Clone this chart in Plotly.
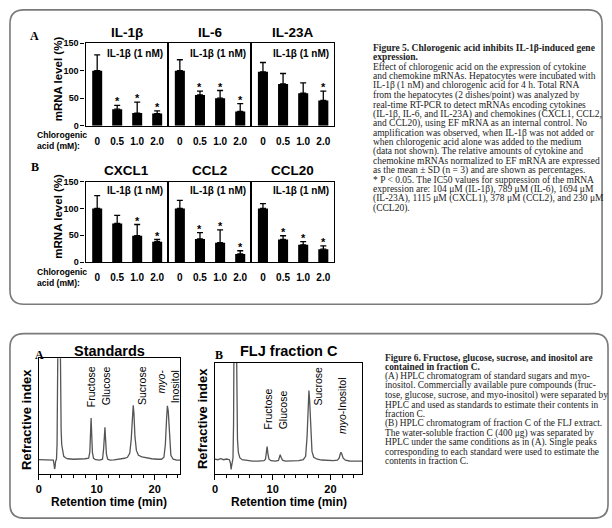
import plotly.graph_objects as go

W, H = 612, 528
SANS = "Liberation Sans, Arial, sans-serif"
SERIF = "Liberation Serif, Times New Roman, serif"

# ---------------- data: Figure 5 (mRNA level, % of control) ----------------
doses = ["0", "0.5", "1.0", "2.0"]
genes = ["IL-1β", "IL-6", "IL-23A", "CXCL1", "CCL2", "CCL20"]
stim_label = "IL-1β (1 nM)"

il1b_mean = [100, 30, 23, 22]
il1b_sd = [29, 7, 20, 5]
il1b_sig = [0, 1, 1, 1]
il6_mean = [100, 56, 50, 26]
il6_sd = [20, 7, 14, 14]
il6_sig = [0, 1, 1, 1]
il23a_mean = [98, 76, 59, 46]
il23a_sd = [17, 19, 19, 17]
il23a_sig = [0, 0, 0, 1]
cxcl1_mean = [100, 72, 49, 38]
cxcl1_sd = [24, 15, 21, 4]
cxcl1_sig = [0, 0, 1, 1]
ccl2_mean = [100, 43, 36, 15]
ccl2_sd = [15, 12, 24, 6]
ccl2_sig = [0, 1, 1, 1]
ccl20_mean = [100, 42, 32, 24]
ccl20_sd = [9, 7, 6, 6]
ccl20_sig = [0, 1, 1, 1]

y_ticks = [0, 50, 100, 150]

# ---------------- data: Figure 6 (HPLC chromatograms) ----------------
std_time = [0, 1, 2, 2.5, 2.62, 2.72, 2.8, 2.9, 3.05, 3.15, 3.22, 3.3, 3.7, 3.76,
            3.85, 3.95, 4.1, 4.3, 4.6, 5, 6, 7, 8, 8.6, 8.8, 8.92, 9.03, 9.12,
            9.25, 9.45, 9.8, 10.5, 11.0, 11.18, 11.32, 11.42, 11.52, 11.68, 11.9,
            12.3, 13, 14, 14.8, 15.3, 15.7, 15.95, 16.15, 16.3, 16.42, 16.6,
            16.85, 17.2, 17.8, 18.5, 19.5, 20.5, 21.2, 21.6, 21.85, 22.05, 22.2,
            22.35, 22.55, 22.8, 23.2, 23.8, 24.4]
std_signal = [14.5, 14.5, 14.3, 14, 10, 5, 7, 13, 15, 30, 80, 140, 140, 80,
              45, 30, 22, 18, 16.5, 15.5, 15, 15, 15.5, 16, 22, 40, 57, 42,
              22, 16, 14.5, 14, 15, 25, 42, 47.5, 36, 20, 15,
              14, 14.3, 15, 16, 17, 21, 35, 58, 70, 62, 38,
              24, 19, 17.5, 16.5, 15.5, 15, 15, 17, 30, 55, 69.5,
              64, 36, 19, 15, 14, 14]

frc_time = [0, 0.5, 1.0, 1.5, 2.0, 2.5, 2.68, 2.8, 2.88, 2.98, 3.12, 3.22, 3.3,
            3.72, 3.8, 3.9, 4.05, 4.3, 4.7, 5.5, 6.5, 7.5, 8.5, 8.75, 8.9, 9.03,
            9.16, 9.35, 9.7, 10.5, 11.0, 11.15, 11.3, 11.45, 11.7, 12.2, 13.5,
            14.5, 15.3, 15.7, 15.95, 16.12, 16.27, 16.4, 16.58, 16.8, 17.1, 17.7,
            18.5, 19.5, 20.5, 21.2, 21.5, 21.68, 21.82, 21.98, 22.2, 22.6, 23.3,
            24.5, 25.5]
frc_signal = [15, 14.5, 15.5, 14.5, 15.2, 14.5, 11, 4.7, 8, 14, 16, 50, 140,
              140, 70, 35, 22, 16.5, 14.5, 13.5, 13, 13, 13.5, 15, 21, 28,
              21, 15, 13.5, 13, 13.8, 16.5, 19.5, 17, 14, 13, 13,
              13.5, 14.5, 18, 38, 66, 85, 74, 42, 23, 17, 15,
              14.2, 13.8, 13.5, 14, 16, 20, 22, 20, 16, 14, 13.2,
              13, 13]

fig5_caption = [
    "<b>Figure 5. Chlorogenic acid inhibits IL-1β-induced gene</b>",
    "<b>expression.</b>",
    "Effect of chlorogenic acid on the expression of cytokine",
    "and chemokine mRNAs. Hepatocytes were incubated with",
    "IL-1β (1 nM) and chlorogenic acid for 4 h. Total RNA",
    "from the hepatocytes (2 dishes/point) was analyzed by",
    "real-time RT-PCR to detect mRNAs encoding cytokines",
    "(IL-1β, IL-6, and IL-23A) and chemokines (CXCL1, CCL2,",
    "and CCL20), using EF mRNA as an internal control. No",
    "amplification was observed, when IL-1β was not added or",
    "when chlorogenic acid alone was added to the medium",
    "(data not shown). The relative amounts of cytokine and",
    "chemokine mRNAs normalized to EF mRNA are expressed",
    "as the mean ± SD (n = 3) and are shown as percentages.",
    "* P &lt; 0.05. The IC50 values for suppression of the mRNA",
    "expression are: 104 μM (IL-1β), 789 μM (IL-6), 1694 μM",
    "(IL-23A), 1115 μM (CXCL1), 378 μM (CCL2), and 230 μM",
    "(CCL20).",
]
fig6_caption = [
    "<b>Figure 6. Fructose, glucose, sucrose, and inositol are</b>",
    "<b>contained in fraction C.</b>",
    "(A) HPLC chromatogram of standard sugars and myo-",
    "inositol. Commercially available pure compounds (fruc-",
    "tose, glucose, sucrose, and myo-inositol) were separated by",
    "HPLC and used as standards to estimate their contents in",
    "fraction C.",
    "(B) HPLC chromatogram of fraction C of the FLJ extract.",
    "The water-soluble fraction C (400 μg) was separated by",
    "HPLC under the same conditions as in (A). Single peaks",
    "corresponding to each standard were used to estimate the",
    "contents in fraction C.",
]


def px(xp):
    return xp / W


def py(yp):
    return 1 - yp / H


fig = go.Figure()
layout = dict(width=W, height=H, margin=dict(l=0, r=0, t=0, b=0),
              paper_bgcolor="white", plot_bgcolor="white", showlegend=False,
              bargap=0.5)
annotations = []
shapes = []


def ann(text, x, y, size, bold=False, family=SANS, xanchor="center",
        yanchor="middle", angle=0, align="center", color="black", **kw):
    d = dict(text=("<b>%s</b>" % text) if bold else text, x=x, y=y,
             xref=kw.pop("xref", "paper"), yref=kw.pop("yref", "paper"),
             showarrow=False, xanchor=xanchor, yanchor=yanchor,
             textangle=angle, align=align,
             font=dict(family=family, size=size, color=color))
    d.update(kw)
    d["borderpad"] = 0
    annotations.append(d)


# ---------------- Figure 5 bar panels ----------------
means = [il1b_mean, il6_mean, il23a_mean, cxcl1_mean, ccl2_mean, ccl20_mean]
sds = [il1b_sd, il6_sd, il23a_sd, cxcl1_sd, ccl2_sd, ccl20_sd]
sigs = [il1b_sig, il6_sig, il23a_sig, cxcl1_sig, ccl2_sig, ccl20_sig]

panel_x = [(83, 166), (166, 249.5), (249.5, 333)]
rows = [dict(top=39, bot=123, title=28, stim=49, lab1=132.5, lab2=143.5,
             ytitle=75, letter="A", ly=32),
        dict(top=180, bot=262, title=169, stim=189, lab1=272, lab2=283.5,
             ytitle=215, letter="B", ly=165)]

for i in range(6):
    r = rows[i // 3]
    c = i % 3
    n = i + 1
    xa = "xaxis%d" % n
    ya = "yaxis%d" % n
    x0, x1 = panel_x[c]
    layout[xa] = dict(domain=[px(x0), px(x1)], anchor="y%d" % n, type="category",
                      range=[-0.58, 3.55], showline=True, mirror=True,
                      linecolor="black", linewidth=1.3, ticks="outside",
                      ticklen=6, tickcolor="rgba(0,0,0,0)", showgrid=False,
                      zeroline=False,
                      tickfont=dict(family=SANS, size=10, color="black",
                                    weight="bold"))
    layout[ya] = dict(domain=[py(r["bot"]), py(r["top"])], anchor="x%d" % n,
                      range=[0, 150], showline=True, mirror=True,
                      linecolor="black", linewidth=1.3, showgrid=False,
                      zeroline=False, tickvals=y_ticks,
                      ticks="outside" if c == 0 else "",
                      ticklen=4, tickwidth=1.2, tickcolor="black",
                      showticklabels=(c == 0),
                      tickfont=dict(family=SANS, size=9, color="black",
                                    weight="bold"))
    fig.add_trace(go.Bar(x=doses, y=means[i], width=0.5,
                         marker=dict(color="black", line=dict(width=0)),
                         error_y=dict(type="data", symmetric=False,
                                      array=sds[i], arrayminus=[0] * 4,
                                      color="black", thickness=1.3, width=3),
                         xaxis="x%d" % n, yaxis="y%d" % n))
    ann(genes[i], px((x0 + x1) / 2), py(r["title"]), 13.5, bold=True)
    ann(stim_label, px(x1 - 4), py(r["stim"]), 10, bold=True, xanchor="right")
    for j, (m, s, g) in enumerate(zip(means[i], sds[i], sigs[i])):
        if g:
            ann("*", j, m + s, 11, bold=True, yanchor="bottom",
                xref="x%d" % n, yref="y%d" % n, yshift=-3)

for r in rows:
    ann("Chlorogenic", px(33), py(r["lab1"]), 8.6, bold=True, xanchor="left")
    ann("acid (mM):", px(33), py(r["lab2"]), 8.6, bold=True, xanchor="left")
    ann("mRNA level (%)", px(55), py(r["ytitle"]), 11.5, bold=True, angle=-90)
    ann(r["letter"], px(32), py(r["ly"]), 12, bold=True, family=SERIF)

# ---------------- Figure 6 chromatograms ----------------
chrom = [dict(n=7, x=(36, 178), y=(360, 478), t=std_time, s=std_signal,
              rng=[0, 24.4], yr=[0, 118], title="Standards", letter="A",
              lx=37, ytx=23),
         dict(n=8, x=(213, 361), y=(365, 478), t=frc_time, s=frc_signal,
              rng=[0, 25.5], yr=[0, 113], title="FLJ fraction C", letter="B",
              lx=217, ytx=200)]
for ch in chrom:
    n = ch["n"]
    layout["xaxis%d" % n] = dict(domain=[px(ch["x"][0]), px(ch["x"][1])],
                                 anchor="y%d" % n, range=ch["rng"],
                                 showline=True, mirror=True, linecolor="black",
                                 linewidth=1.3, showgrid=False, zeroline=False,
                                 tickvals=[0, 10, 20], ticks="outside",
                                 ticklen=5, tickwidth=1.2, tickcolor="black",
                                 minor=dict(dtick=2, ticks="outside", ticklen=3,
                                            tickwidth=1, tickcolor="black",
                                            showgrid=False),
                                 tickfont=dict(family=SANS, size=11,
                                               color="black", weight="bold"))
    layout["yaxis%d" % n] = dict(domain=[py(ch["y"][1]), py(ch["y"][0])],
                                 anchor="x%d" % n, range=ch["yr"],
                                 showline=True, mirror=True, linecolor="black",
                                 linewidth=1.3, showgrid=False, zeroline=False,
                                 showticklabels=False, ticks="")
    fig.add_trace(go.Scatter(x=ch["t"], y=ch["s"], mode="lines",
                             line=dict(color="#555555", width=1.3),
                             xaxis="x%d" % n, yaxis="y%d" % n))
    cx = (ch["x"][0] + ch["x"][1]) / 2
    ann(ch["title"], px(cx), py(353), 14.5, bold=True)
    ann(ch["letter"], px(ch["lx"]), py(357), 12, bold=True, family=SERIF)
    ann("Retention time (min)", px(cx), py(507), 12, bold=True)
    ann("Refractive index", px(ch["ytx"]), py(422), 13, bold=True, angle=-90)

# peak labels (rotated)
ann("Fructose", px(88), py(389), 10.5, angle=-90)
ann("Glucose", px(103), py(388), 10.5, angle=-90)
ann("Sucrose", px(139), py(388), 10.5, angle=-90)
ann("<i>myo</i>-<br>Inositol", px(166), py(388.5), 10.5, angle=-90, align="right")
ann("Fructose", px(266.5), py(412), 10.5, angle=-90)
ann("Glucose", px(281.5), py(413), 10.5, angle=-90)
ann("Sucrose", px(316.5), py(388), 10.5, angle=-90)
ann("<i>myo</i>-Inositol", px(340), py(408.5), 10.5, angle=-90)

# ---------------- captions ----------------
for k, line in enumerate(fig5_caption):
    ann(line, px(371), py(43.8 + 9.62 * k), 9.5, family=SERIF, xanchor="left",
        color="#222222")
for k, line in enumerate(fig6_caption):
    ann(line, px(383), py(359.5 + 9.6 * k), 9.4, family=SERIF, xanchor="left",
        color="#222222")


# ---------------- rounded frames ----------------
def rounded(x0, y0, x1, y1, r):
    pts = [("M", x0 + r, y0), ("L", x1 - r, y0), ("Q", x1, y0, x1, y0 + r),
           ("L", x1, y1 - r), ("Q", x1, y1, x1 - r, y1), ("L", x0 + r, y1),
           ("Q", x0, y1, x0, y1 - r), ("L", x0, y0 + r), ("Q", x0, y0, x0 + r, y0)]
    out = []
    for p in pts:
        cmd = p[0]
        coords = p[1:]
        s = cmd
        for j in range(0, len(coords), 2):
            s += " %.5f,%.5f" % (px(coords[j]), py(coords[j + 1]))
        out.append(s)
    return " ".join(out) + " Z"


for (a, b, c, d) in [(7, 5, 602, 305), (7, 335, 608, 523)]:
    shapes.append(dict(type="path", path=rounded(a, b, c, d, 14), xref="paper",
                       yref="paper", line=dict(color="#7a7a7a", width=1.6),
                       layer="below"))

layout["annotations"] = annotations
layout["shapes"] = shapes
fig.update_layout(**layout)
fig.write_html("out.html", config={"displayModeBar": False},
               post_script="document.body.style.margin='0';"
                           "document.body.style.overflow='hidden';")
